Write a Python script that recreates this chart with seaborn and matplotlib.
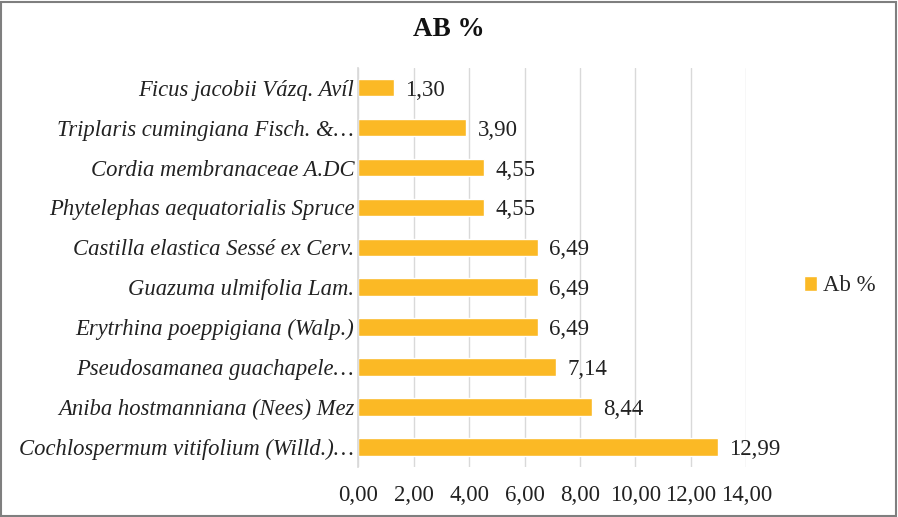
import pandas as pd
import matplotlib.pyplot as plt
import seaborn as sns

species = [
    "Ficus jacobii Vázq. Avíl",
    "Triplaris cumingiana Fisch. &…",
    "Cordia membranaceae A.DC",
    "Phytelephas aequatorialis Spruce",
    "Castilla elastica Sessé ex Cerv.",
    "Guazuma ulmifolia Lam.",
    "Erytrhina poeppigiana (Walp.)",
    "Pseudosamanea guachapele…",
    "Aniba hostmanniana (Nees) Mez",
    "Cochlospermum vitifolium (Willd.)…",
]
ab_pct = [1.30, 3.90, 4.55, 4.55, 6.49, 6.49, 6.49, 7.14, 8.44, 12.99]
x_ticks = [0, 2, 4, 6, 8, 10, 12, 14]
bar_color = "#FBB925"

df = pd.DataFrame({"Especie": species, "Ab %": ab_pct})

sns.set_theme(style="white")
plt.rcParams["font.family"] = ["Liberation Serif", "DejaVu Serif"]

fig = plt.figure(figsize=(8.98, 5.17), dpi=100)
ax = fig.add_axes([0.399, 0.097, 0.432, 0.772])

sns.barplot(data=df, y="Especie", x="Ab %", color=bar_color, width=0.44,
            ax=ax, label="Ab %", saturation=1)

for i, v in enumerate(ab_pct):
    ax.text(v + 0.4, i, f"{v:.2f}".replace(".", ","), va="center_baseline", ha="left",
            fontsize=16.5, color="#222222")

ax.set_xlim(0, 14)
ax.set_xticks(x_ticks)
ax.set_xticklabels([f"{t:.2f}".replace(".", ",") for t in x_ticks], fontsize=16.5,
                   color="#222222")
ax.set_yticks(range(len(species)))
ax.set_yticklabels(species, fontsize=16.3, style="italic", color="#222222",
                   va="center_baseline")
ax.tick_params(axis="both", length=0, pad=3)
ax.tick_params(axis="x", pad=13)
ax.set_xlabel("")
ax.set_ylabel("")
ax.xaxis.grid(True, color="#d9d9d9", linewidth=1)
ax.set_axisbelow(True)
for s in ["top", "right", "bottom"]:
    ax.spines[s].set_visible(False)
ax.spines["left"].set_color("#d9d9d9")

ax.legend(loc="center left", bbox_to_anchor=(0.872, 0.447), bbox_transform=fig.transFigure,
          frameon=False, fontsize=16.5, handlelength=0.6, handleheight=0.6,
          handletextpad=0.25)

fig.text(0.5, 0.943, "AB %", ha="center", va="center", fontsize=19.5, fontweight="bold",
         color="#111111")

fig.patches.append(plt.Rectangle((0.001, 0.002), 0.997, 0.995, transform=fig.transFigure,
                                 fill=False, edgecolor="#7f7f7f", linewidth=1.5))

fig.savefig("out.png", dpi=100)
plt.close(fig)
